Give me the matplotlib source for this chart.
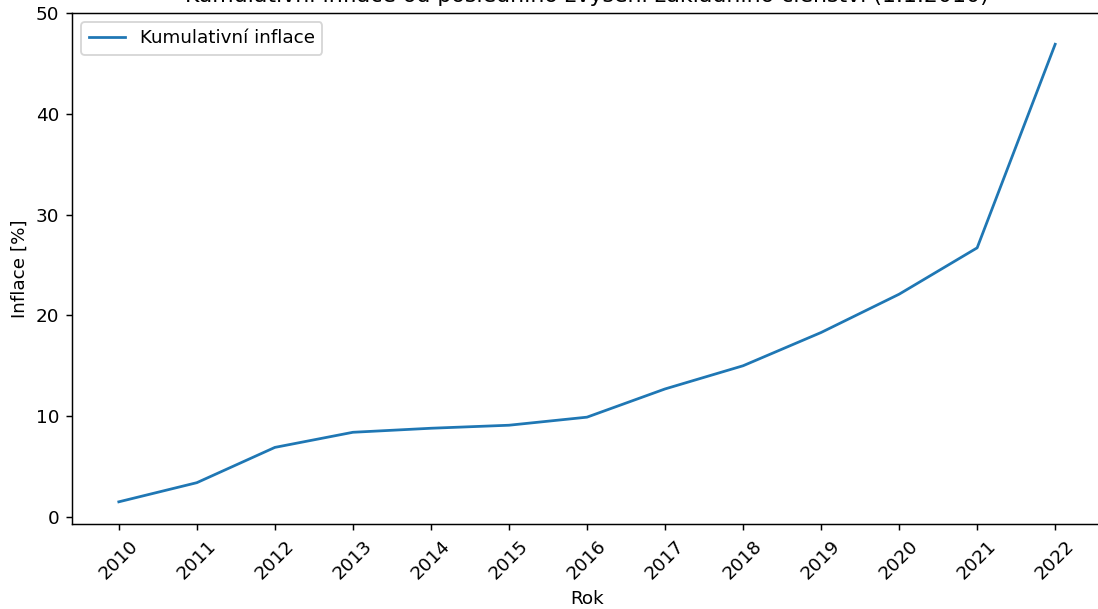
import matplotlib
matplotlib.use("Agg")
import matplotlib.pyplot as plt

# roky a kumulativni inflace
roky = [2010, 2011, 2012, 2013, 2014, 2015, 2016, 2017, 2018, 2019, 2020, 2021, 2022]
inflace = [1.5, 3.4, 6.9, 8.4, 8.8, 9.1, 9.9, 12.7, 15.0, 18.3, 22.1, 26.7, 46.9]

DPI = 132
fig = plt.figure(figsize=(1098/DPI, 609/DPI), dpi=DPI)
ax = fig.add_axes([72/1098, 1 - 524/609, (1102 - 72)/1098, (524 - 13)/609])

ax.plot(roky, inflace, lw=1.5, color="#1f77b4", label="Kumulativní inflace")
ax.set_title("Kumulativní inflace od posledního zvýšení základního členství (1.1.2010)")
ax.set_xlabel("Rok")
ax.set_ylabel("Inflace [%]")
ax.set_xticks(roky)
ax.set_xticklabels([str(r) for r in roky], rotation=45)
ax.set_ylim(-0.7, 50)
ax.legend(loc="upper left")

fig.savefig("out.png", dpi=DPI)
